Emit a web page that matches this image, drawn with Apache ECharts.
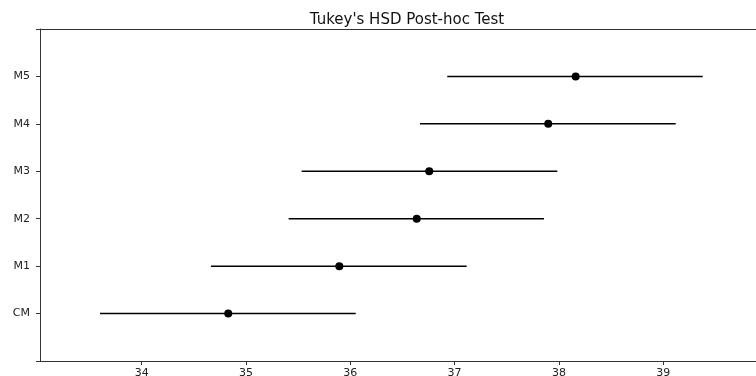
<!DOCTYPE html>
<html>
<head>
<meta charset="utf-8">
<script src="https://cdn.jsdelivr.net/npm/echarts@6/dist/echarts.min.js"></script>
<style>
  html, body { margin: 0; padding: 0; background: #fff; }
  #main { width: 756px; height: 376px; }
</style>
</head>
<body>
<div id="main"></div>
<script>
// groups, bottom to top
var groups = ['CM', 'M1', 'M2', 'M3', 'M4', 'M5'];
var means = [34.83, 35.895, 36.637, 36.757, 37.898, 38.161];
var lower = [33.60, 34.664, 35.409, 35.534, 36.668, 36.930];
var upper = [36.052, 37.116, 37.857, 37.985, 39.120, 39.379];
var xTicks = [34, 35, 36, 37, 38, 39];
var yTicks = [-1, 0, 1, 2, 3, 4, 5, 6];

var myChart = echarts.init(document.getElementById('main'));

var barData = groups.map(function (g, i) { return [lower[i], upper[i], i]; });
var dotData = groups.map(function (g, i) { return [means[i], i]; });

var font = 'DejaVu Sans';

var option = {
  animation: false,
  title: {
    text: "Tukey's HSD Post-hoc Test",
    left: 402,
    textAlign: 'center',
    top: 8,
    textStyle: { fontFamily: font, fontSize: 15, fontWeight: 'normal', color: '#111' }
  },
  grid: { left: 40, right: 0, top: 29, bottom: 15, containLabel: false, outerBoundsMode: 'none' },
  xAxis: [{
    type: 'value',
    min: 33.025,
    max: 39.89,
    splitLine: { show: false },
    axisLine: { onZero: false, lineStyle: { color: '#333', width: 1 } },
    axisTick: { customValues: xTicks, length: 4, lineStyle: { color: '#333' } },
    axisLabel: {
      customValues: xTicks,
      fontFamily: font, fontSize: 11, color: '#222', margin: 7
    }
  }, {
    type: 'value',
    position: 'top',
    min: 33.025,
    max: 39.89,
    splitLine: { show: false },
    axisLine: { show: true, onZero: false, lineStyle: { color: '#333', width: 1 } },
    axisTick: { show: false },
    axisLabel: { show: false }
  }],
  yAxis: {
    type: 'value',
    min: -1,
    max: 6,
    splitLine: { show: false },
    axisLine: { show: true, onZero: false, lineStyle: { color: '#333', width: 1 } },
    axisTick: { show: true, customValues: yTicks, length: 4, lineStyle: { color: '#333' } },
    axisLabel: {
      customValues: yTicks,
      fontFamily: font, fontSize: 11, color: '#222', margin: 10,
      formatter: function (v) { return groups[v] || ''; }
    }
  },
  series: [{
    type: 'custom',
    data: barData,
    encode: { x: [0, 1], y: 2 },
    renderItem: function (params, api) {
      var a = api.coord([api.value(0), api.value(2)]);
      var b = api.coord([api.value(1), api.value(2)]);
      return {
        type: 'line',
        shape: { x1: a[0], y1: a[1], x2: b[0], y2: b[1] },
        style: { stroke: '#000', lineWidth: 1.5 }
      };
    },
    z: 2
  }, {
    type: 'scatter',
    data: dotData,
    symbol: 'circle',
    symbolSize: 8,
    itemStyle: { color: '#000', opacity: 1 },
    z: 3
  }]
};

myChart.setOption(option);
</script>
</body>
</html>
